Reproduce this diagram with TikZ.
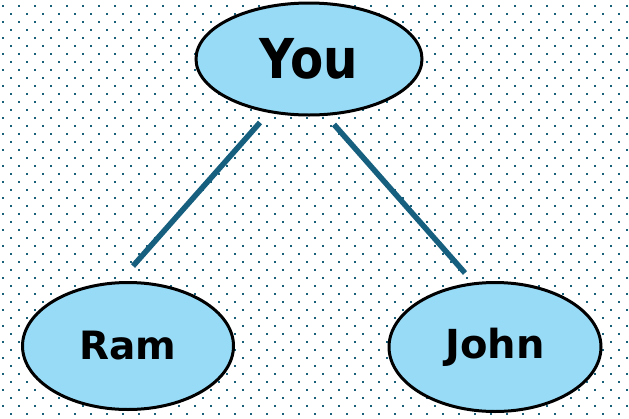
\documentclass[tikz,border=0pt]{standalone}
\usepackage{fontspec}
\setmainfont{DejaVu Sans}
\usetikzlibrary{shapes.geometric}
\definecolor{dotcol}{RGB}{26,95,122}
\definecolor{linecol}{RGB}{22,95,126}
\definecolor{fillblue}{RGB}{151,219,247}
\tikzset{
  person/.style={ellipse, draw=black, line width=3pt, fill=fillblue, inner sep=0pt},
  tie/.style={draw=linecol, line width=5.5pt}
}
\begin{document}
\begin{tikzpicture}[x=1pt,y=-1pt]
\useasboundingbox (0,0) rectangle (629,418);
\fill[white] (0,0) rectangle (629,418);
% dotted background
\foreach \i in {0,...,39}{
  \foreach \j in {0,...,26}{
    \fill[dotcol] ({2+16*\i},{5+16*\j}) rectangle ++(2.2,2.2);
    \fill[dotcol] ({10+16*\i},{13+16*\j}) rectangle ++(2.2,2.2);
  }
}
\node[person, minimum width=226pt, minimum height=112pt] (you) at (309,59) {\scalebox{0.88}[1]{\bfseries\fontsize{55}{60}\selectfont You}};
\node[person, minimum width=211pt, minimum height=127pt] (ram) at (128,346) {\bfseries\fontsize{39}{44}\selectfont Ram};
\node[person, minimum width=212pt, minimum height=129pt] (john) at (495,347) {\bfseries\fontsize{40}{44}\selectfont John};
\draw[tie] ([xshift=-49pt,yshift=-6pt]you.south) -- ([xshift=5pt,yshift=15pt]ram.north);
\draw[tie] ([xshift=25pt,yshift=-8pt]you.south) -- ([xshift=-30pt,yshift=8pt]john.north);
\end{tikzpicture}
\end{document}
